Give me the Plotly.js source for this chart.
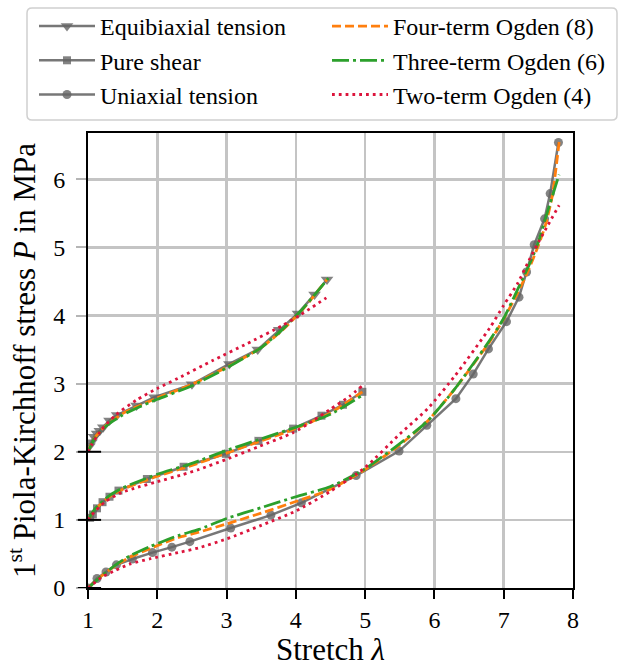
<!DOCTYPE html>
<html>
<head>
<meta charset="utf-8">
<script src="https://cdn.plot.ly/plotly-3.0.1.min.js"></script>
<style>html,body{margin:0;padding:0;background:#fff}#chart{width:621px;height:667px}</style>
</head>
<body>
<div id="chart"></div>
<script>
// Experimental data (values as plotted; equibiaxial shifted by +2, pure shear by +1)
const equiX = [1.02, 1.05, 1.09, 1.13, 1.17, 1.22, 1.31, 1.42, 1.70, 1.96, 2.50, 3.04, 3.45, 3.76, 4.03, 4.27, 4.45];
const equiY = [2.08, 2.14, 2.22, 2.27, 2.31, 2.36, 2.46, 2.54, 2.68, 2.80, 2.99, 3.29, 3.50, 3.79, 4.03, 4.31, 4.53];
const shearX = [1.03, 1.07, 1.13, 1.21, 1.31, 1.44, 1.85, 2.38, 2.99, 3.46, 3.96, 4.37, 4.68, 4.96];
const shearY = [1.03, 1.08, 1.17, 1.26, 1.34, 1.43, 1.60, 1.78, 1.97, 2.16, 2.34, 2.53, 2.69, 2.88];
const uniX = [1.0, 1.13, 1.26, 1.41, 1.64, 1.93, 2.21, 2.47, 3.06, 3.64, 4.08, 4.87, 5.49, 5.89, 6.31, 6.56, 6.78, 7.04, 7.22, 7.33, 7.44, 7.59, 7.67, 7.79];
const uniY = [0.0, 0.14, 0.235, 0.34, 0.425, 0.52, 0.60, 0.68, 0.88, 1.07, 1.25, 1.65, 2.01, 2.39, 2.78, 3.14, 3.51, 3.91, 4.27, 4.64, 5.04, 5.42, 5.79, 6.54];

// Four-term Ogden (8)
const o4EquiX = [1.0, 1.05, 1.1, 1.2, 1.3, 1.5, 1.7, 2.0, 2.5, 3.0, 3.5, 3.8, 4.1, 4.45];
const o4EquiY = [2.0, 2.12, 2.21, 2.33, 2.42, 2.56, 2.66, 2.79, 2.99, 3.24, 3.53, 3.78, 4.09, 4.53];
const o4ShearX = [1.0, 1.1, 1.3, 1.5, 2.0, 2.5, 3.0, 3.5, 4.0, 4.5, 4.96];
const o4ShearY = [1.0, 1.15, 1.33, 1.45, 1.64, 1.80, 1.98, 2.16, 2.34, 2.57, 2.88];
const o4UniX = [1.0, 1.2, 1.4, 1.6, 1.9, 2.3, 2.6, 3.0, 3.5, 4.0, 4.5, 5.0, 5.5, 5.9, 6.3, 6.8, 7.0, 7.2, 7.35, 7.5, 7.6, 7.7, 7.8];
const o4UniY = [0.0, 0.18, 0.33, 0.45, 0.58, 0.74, 0.82, 0.94, 1.10, 1.27, 1.45, 1.74, 2.10, 2.45, 2.93, 3.62, 3.95, 4.33, 4.65, 5.03, 5.32, 5.75, 6.55];

// Three-term Ogden (6)
const o3EquiX = [1.0, 1.05, 1.1, 1.2, 1.3, 1.5, 1.7, 2.0, 2.5, 3.0, 3.5, 3.8, 4.1, 4.47];
const o3EquiY = [2.0, 2.11, 2.20, 2.32, 2.41, 2.54, 2.64, 2.77, 2.97, 3.23, 3.53, 3.79, 4.10, 4.55];
const o3ShearX = [1.0, 1.1, 1.3, 1.5, 2.0, 2.5, 3.0, 3.5, 4.0, 4.5, 4.96];
const o3ShearY = [1.0, 1.16, 1.35, 1.47, 1.67, 1.83, 2.02, 2.19, 2.36, 2.55, 2.83];
const o3UniX = [1.0, 1.2, 1.4, 1.6, 1.9, 2.3, 2.6, 3.0, 3.5, 4.0, 4.5, 5.0, 5.5, 5.9, 6.3, 6.8, 7.0, 7.2, 7.4, 7.5, 7.64, 7.8];
const o3UniY = [0.0, 0.18, 0.34, 0.47, 0.61, 0.77, 0.86, 1.02, 1.18, 1.34, 1.49, 1.75, 2.12, 2.45, 2.93, 3.64, 3.96, 4.38, 4.82, 5.08, 5.55, 6.07];

// Two-term Ogden (4)
const o2EquiX = [1.0, 1.05, 1.2, 1.4, 1.7, 2.0, 2.3, 2.8, 3.3, 3.8, 4.05, 4.44];
const o2EquiY = [2.0, 2.10, 2.33, 2.54, 2.76, 2.93, 3.08, 3.34, 3.59, 3.85, 4.0, 4.26];
const o2ShearX = [1.0, 1.05, 1.24, 1.48, 1.72, 2.0, 2.35, 2.6, 3.0, 3.45, 3.96, 4.24, 4.49, 4.77, 4.96];
const o2ShearY = [1.0, 1.07, 1.26, 1.40, 1.48, 1.56, 1.66, 1.74, 1.89, 2.07, 2.28, 2.45, 2.62, 2.81, 2.97];
const o2UniX = [1.0, 1.2, 1.4, 1.6, 1.9, 2.3, 2.6, 3.0, 3.5, 4.0, 4.5, 5.0, 5.5, 5.9, 6.3, 6.8, 7.0, 7.2, 7.37, 7.52, 7.64, 7.8];
const o2UniY = [0.0, 0.16, 0.26, 0.35, 0.43, 0.52, 0.59, 0.72, 0.92, 1.13, 1.42, 1.77, 2.26, 2.63, 3.12, 3.82, 4.15, 4.47, 4.82, 5.11, 5.33, 5.62];

const baselineOffsets = [0, 1, 2];
const xTicks = [1, 2, 3, 4, 5, 6, 7, 8];
const yTicks = [0, 1, 2, 3, 4, 5, 6];

function joinSegs(...segs) {
  const out = [];
  segs.forEach((s, i) => { if (i > 0) out.push(null); out.push(...s); });
  return out;
}

const FONT = '"Liberation Serif", "Times New Roman", "DejaVu Serif", serif';
const GRAY = 'rgba(95,95,95,0.85)';
const MGRAY = 'rgba(100,100,100,0.8)';

const traces = [
  {x: equiX, y: equiY, name: 'Equibiaxial tension', mode: 'lines+markers', legend: 'legend',
   line: {color: GRAY, width: 2.5}, marker: {symbol: 'triangle-down', size: 11, color: MGRAY}},
  {x: shearX, y: shearY, name: 'Pure shear', mode: 'lines+markers', legend: 'legend',
   line: {color: GRAY, width: 2.5}, marker: {symbol: 'square', size: 8, color: MGRAY}},
  {x: uniX, y: uniY, name: 'Uniaxial tension', mode: 'lines+markers', legend: 'legend',
   line: {color: GRAY, width: 2.5}, marker: {symbol: 'circle', size: 9, color: MGRAY}},
  {x: joinSegs(o4EquiX, o4ShearX, o4UniX), y: joinSegs(o4EquiY, o4ShearY, o4UniY),
   name: 'Four-term Ogden (8)', mode: 'lines', legend: 'legend2', connectgaps: false,
   line: {color: '#ff7f0e', width: 2.8, dash: '9px,4px', shape: 'spline', smoothing: 0.6}},
  {x: joinSegs(o3EquiX, o3ShearX, o3UniX), y: joinSegs(o3EquiY, o3ShearY, o3UniY),
   name: 'Three-term Ogden (6)', mode: 'lines', legend: 'legend2', connectgaps: false,
   line: {color: '#2ca02c', width: 2.8, dash: '17px,4px,3px,4px', shape: 'spline', smoothing: 0.6}},
  {x: joinSegs(o2EquiX, o2ShearX, o2UniX), y: joinSegs(o2EquiY, o2ShearY, o2UniY),
   name: 'Two-term Ogden (4)', mode: 'lines', legend: 'legend2', connectgaps: false,
   line: {color: '#dc143c', width: 2.8, dash: '2.8px,4px', shape: 'spline', smoothing: 0.6}}
];

// plot area: left 88, width 485, bottom 588, height 455
const PX = px => (px - 88) / 485;
const PY = py => (588 - py) / 455;

const shapes = baselineOffsets.map(v => ({
  type: 'line', xref: 'paper', yref: 'y', x0: -0.021, x1: 0.027, y0: v, y1: v,
  line: {color: 'black', width: 2}, layer: 'above'
}));

// rounded legend frame (pixel corners converted to paper coordinates)
function roundedFrame(l, t, r, b, rad) {
  const p = (x, y) => PX(x) + ',' + PY(y);
  return 'M' + p(l + rad, t) + ' L' + p(r - rad, t) + ' Q' + p(r, t) + ' ' + p(r, t + rad) +
    ' L' + p(r, b - rad) + ' Q' + p(r, b) + ' ' + p(r - rad, b) +
    ' L' + p(l + rad, b) + ' Q' + p(l, b) + ' ' + p(l, b - rad) +
    ' L' + p(l, t + rad) + ' Q' + p(l, t) + ' ' + p(l + rad, t) + ' Z';
}
shapes.push({
  type: 'path', xref: 'paper', yref: 'paper', path: roundedFrame(27, 8, 617, 120, 5),
  line: {color: '#d0d0d0', width: 1.5}, fillcolor: 'white', layer: 'above'
});

const legendCommon = {
  orientation: 'v', xanchor: 'left', yanchor: 'top', xref: 'paper', yref: 'paper',
  traceorder: 'normal', itemwidth: 56,
  font: {family: FONT, size: 24, color: 'black'},
  bgcolor: 'rgba(0,0,0,0)', borderwidth: 0
};

const layout = {
  width: 621, height: 667,
  margin: {l: 88, r: 48, t: 133, b: 79, pad: 0, autoexpand: false},
  paper_bgcolor: 'white', plot_bgcolor: 'white',
  font: {family: FONT, size: 24, color: 'black'},
  showlegend: true,
  legend: Object.assign({}, legendCommon, {x: PX(34), y: PY(4)}),
  legend2: Object.assign({}, legendCommon, {x: PX(327), y: PY(4)}),
  xaxis: {
    range: [1, 8], tickvals: xTicks, ticktext: xTicks.map(String),
    showgrid: true, gridcolor: '#c4c4c4', gridwidth: 2.5,
    showline: true, linecolor: 'black', linewidth: 2, mirror: true,
    ticks: 'outside', ticklen: 9, tickwidth: 2, tickcolor: 'black',
    zeroline: false, tickfont: {family: FONT, size: 24},
    title: {text: 'Stretch <i>λ</i>', font: {family: FONT, size: 31}, standoff: 6}
  },
  yaxis: {
    range: [0, 6.68], tickvals: yTicks, ticktext: yTicks.map(String),
    showgrid: true, gridcolor: '#c4c4c4', gridwidth: 2.5,
    showline: true, linecolor: 'black', linewidth: 2, mirror: true,
    ticks: 'outside', ticklen: 10, tickwidth: 2, tickcolor: '#b5b5b5',
    zeroline: false, tickfont: {family: FONT, size: 24}, ticklabelstandoff: 6,
    title: {text: '1<sup>st</sup> Piola-Kirchhoff stress <i>P</i> in MPa', font: {family: FONT, size: 31}, standoff: 8}
  },
  shapes: shapes
};

Plotly.newPlot('chart', traces, layout, {displayModeBar: false, staticPlot: true});
</script>
</body>
</html>
